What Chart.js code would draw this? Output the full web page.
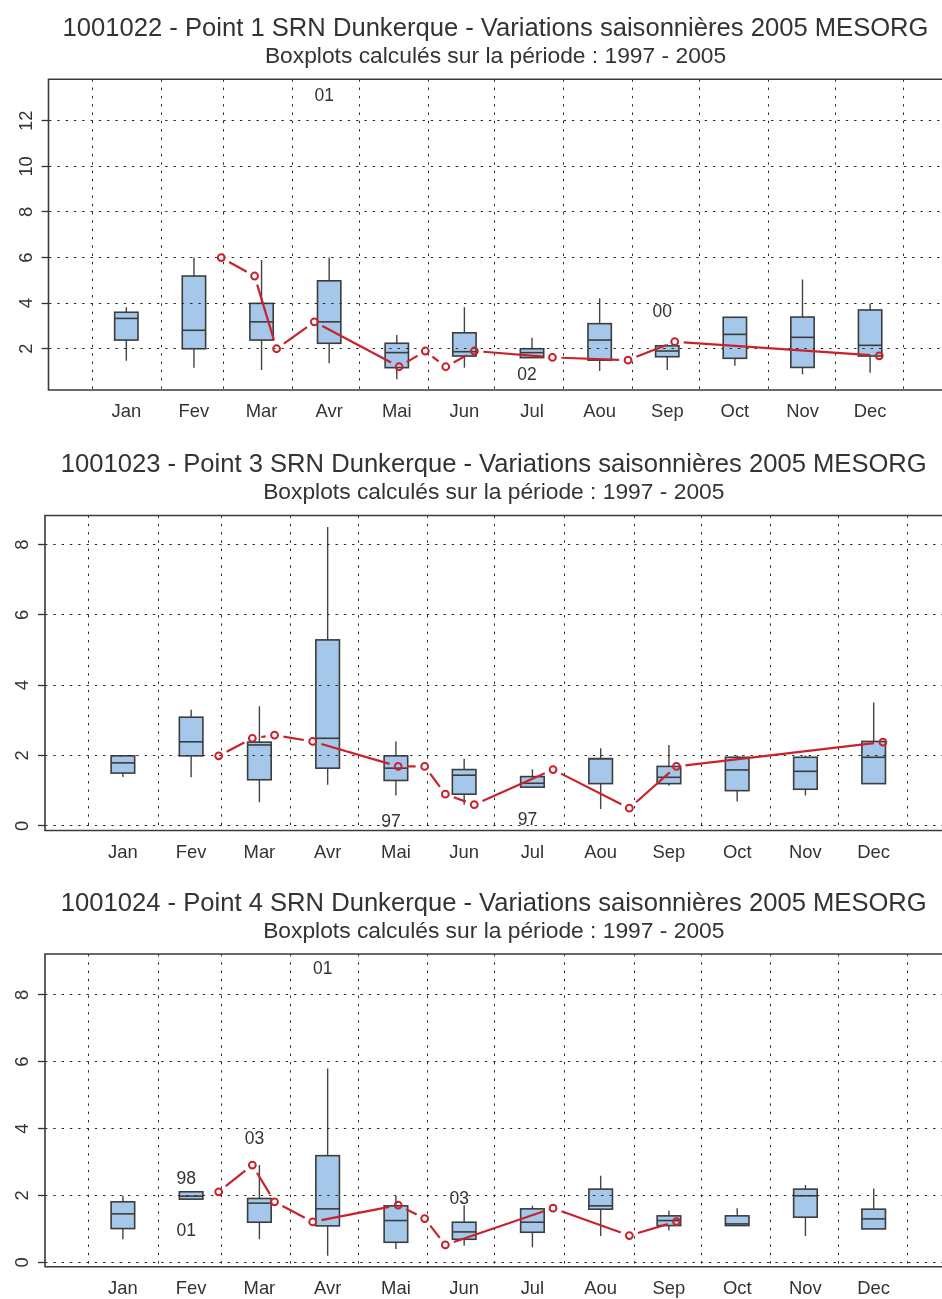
<!DOCTYPE html>
<html><head><meta charset="utf-8">
<script src="https://cdn.jsdelivr.net/npm/chart.js@4.4.1/dist/chart.umd.min.js"></script>
<style>
html,body{margin:0;padding:0;background:#fff;overflow:hidden;}
#wrap{position:relative;width:942px;height:1299px;overflow:hidden;background:#fff;}
.panel{position:absolute;left:0;}
canvas{display:block;}
</style></head><body>
<div id="wrap">
  <div class="panel" style="top:0px"><canvas id="c1" width="948" height="433" style="width:948px;height:433px"></canvas></div>
  <div class="panel" style="top:436px"><canvas id="c2" width="948" height="439" style="width:948px;height:439px"></canvas></div>
  <div class="panel" style="top:875px"><canvas id="c3" width="948" height="424" style="width:948px;height:424px"></canvas></div>
</div>
<script>
// ---------------- DATA ----------------
const months = ['Jan','Fev','Mar','Avr','Mai','Jun','Jul','Aou','Sep','Oct','Nov','Dec'];
const monthStartDays = [0,31,59,90,120,151,181,212,243,273,304,334,365];
// 2005 sampling dates (day of year)
const sampleDays = [57.9, 72.9, 82.8, 99.8, 137.9, 149.7, 158.9, 171.8, 206.9, 240.9, 261.9, 353.9];
const subtitleText = 'Boxplots calculés sur la période : 1997 - 2005';

// Panel 1 : 1001022
const p1Title = '1001022 - Point 1 SRN Dunkerque - Variations saisonnières 2005 MESORG';
const p1Low  = [1.47, 1.17, 1.07, 1.36, 0.66, 1.17, 1.61, 1.02, 1.07, 1.25, 0.88, 0.95];
const p1Q1   = [2.38, 2.00, 2.38, 2.24, 1.17, 1.68, 1.61, 1.50, 1.65, 1.58, 1.18, 1.68];
const p1Med  = [3.33, 2.81, 3.18, 3.18, 1.83, 1.87, 1.83, 2.38, 1.90, 2.63, 2.50, 2.15];
const p1Q3   = [3.60, 5.19, 3.99, 4.98, 2.24, 2.70, 2.00, 3.10, 2.13, 3.38, 3.39, 3.70];
const p1High = [3.82, 6.00, 5.89, 6.00, 2.60, 3.82, 2.48, 4.21, 2.20, 3.40, 5.04, 3.99];
const p1Sample = [6.00, 5.19, 2.00, 3.18, 1.21, 1.90, 1.21, 1.90, 1.62, 1.50, 2.31, 1.69];
const p1OutMonth = [3, 6, 8];
const p1OutValue = [13.1, 0.85, 3.62];
const p1OutLabel = ['01', '02', '00'];
const p1YTicks = [2, 4, 6, 8, 10, 12];

// Panel 2 : 1001023
const p2Title = '1001023 - Point 3 SRN Dunkerque - Variations saisonnières 2005 MESORG';
const p2Low  = [1.39, 1.38, 0.67, 1.17, 0.86, 0.60, 1.10, 0.48, 1.14, 0.69, 0.86, 1.20];
const p2Q1   = [1.50, 1.99, 1.31, 1.64, 1.29, 0.90, 1.10, 1.20, 1.20, 1.00, 1.04, 1.20];
const p2Med  = [1.79, 2.39, 2.30, 2.49, 1.64, 1.44, 1.21, 1.91, 1.38, 1.59, 1.55, 1.95];
const p2Q3   = [1.99, 3.09, 2.38, 5.29, 1.99, 1.60, 1.40, 1.91, 1.69, 1.95, 1.95, 2.40];
const p2High = [1.99, 3.30, 3.40, 8.50, 2.40, 1.91, 1.61, 2.21, 2.30, 2.00, 2.00, 3.51];
const p2Sample = [1.99, 2.49, 2.58, 2.40, 1.69, 1.69, 0.90, 0.60, 1.60, 0.50, 1.69, 2.38];
const p2OutMonth = [4, 6];
const p2OutValue = [0.11, 0.17];
const p2OutLabel = ['97', '97'];
const p2YTicks = [0, 2, 4, 6, 8];

// Panel 3 : 1001024
const p3Title = '1001024 - Point 4 SRN Dunkerque - Variations saisonnières 2005 MESORG';
const p3Low  = [0.69, 1.89, 0.69, 0.20, 0.40, 0.50, 0.45, 0.79, 0.95, 1.10, 0.79, 1.00];
const p3Q1   = [1.01, 1.89, 1.20, 1.09, 0.60, 0.69, 0.90, 1.59, 1.10, 1.10, 1.35, 1.00];
const p3Med  = [1.45, 1.98, 1.77, 1.60, 1.25, 0.91, 1.20, 1.69, 1.25, 1.15, 1.99, 1.30];
const p3Q3   = [1.81, 2.11, 1.91, 3.19, 1.69, 1.20, 1.60, 2.19, 1.39, 1.39, 2.19, 1.59];
const p3High = [1.99, 2.11, 2.91, 5.80, 1.99, 1.71, 1.69, 2.59, 1.54, 1.62, 2.31, 2.21];
const p3Sample = [2.11, 2.91, 1.81, 1.21, 1.71, 1.31, 0.52, null, 1.62, 0.80, 1.22, null];
const p3OutMonth = [1, 1, 2, 3, 5];
const p3OutValue = [2.49, 0.92, 3.69, 8.78, 1.89];
const p3OutLabel = ['98', '01', '03', '01', '03'];
const p3YTicks = [0, 2, 4, 6, 8];

// ---------------- STYLE ----------------
const FONT = '"Liberation Sans", Arial, Helvetica, sans-serif';
const TEXT = '#333333';
const GRID = '#2a2a2a';
const BOX_FILL = '#A5C8EA';
const BOX_LINE = '#3c3c3c';
const RED = '#C8232C';
const TICK_SIZE = 18.4;
const BOX_WIDTH_DAYS = 10.5;
const DASH = [2.4, 5.9];

Chart.defaults.font.family = FONT;
Chart.defaults.color = TEXT;

function boxCenter(i) { return (i + 0.5) * 365 / 12; }

const boxPlugin = {
  id: 'boxes',
  beforeDraw(chart) {
    const b = chart.options.plugins.boxes;
    if (!b) return;
    const xs = chart.scales.x, ys = chart.scales.y, ctx = chart.ctx;
    ctx.save();
    for (let i = 0; i < months.length; i++) {
      const c = boxCenter(i);
      const cx = xs.getPixelForValue(c);
      const x0 = xs.getPixelForValue(c - BOX_WIDTH_DAYS / 2);
      const x1 = xs.getPixelForValue(c + BOX_WIDTH_DAYS / 2);
      const yLow = ys.getPixelForValue(b.low[i]);
      const yQ1 = ys.getPixelForValue(b.q1[i]);
      const yMed = ys.getPixelForValue(b.med[i]);
      const yQ3 = ys.getPixelForValue(b.q3[i]);
      const yHigh = ys.getPixelForValue(b.high[i]);
      ctx.strokeStyle = '#444';
      ctx.lineWidth = 1.4;
      ctx.beginPath();
      ctx.moveTo(cx, yLow); ctx.lineTo(cx, yQ1);
      ctx.moveTo(cx, yQ3); ctx.lineTo(cx, yHigh);
      ctx.stroke();
      ctx.fillStyle = BOX_FILL;
      ctx.fillRect(x0, yQ3, x1 - x0, yQ1 - yQ3);
      ctx.strokeStyle = BOX_LINE;
      ctx.lineWidth = 1.6;
      ctx.strokeRect(x0, yQ3, x1 - x0, yQ1 - yQ3);
      ctx.beginPath();
      ctx.moveTo(x0, yMed); ctx.lineTo(x1, yMed);
      ctx.stroke();
    }
    ctx.restore();
  }
};

const gapLinePlugin = {
  id: 'gapLine',
  beforeDatasetsDraw(chart) {
    const meta = chart.getDatasetMeta(0);
    const pts = meta.data;
    const ctx = chart.ctx;
    const GAP = 9;
    ctx.save();
    ctx.strokeStyle = RED;
    ctx.lineWidth = 2.2;
    ctx.lineCap = 'butt';
    for (let i = 0; i < pts.length - 1; i++) {
      const a = pts[i], b = pts[i + 1];
      const dx = b.x - a.x, dy = b.y - a.y;
      const len = Math.hypot(dx, dy);
      if (len <= 2 * GAP) continue;
      const ux = dx / len, uy = dy / len;
      ctx.beginPath();
      ctx.moveTo(a.x + ux * GAP, a.y + uy * GAP);
      ctx.lineTo(b.x - ux * GAP, b.y - uy * GAP);
      ctx.stroke();
    }
    ctx.restore();
  }
};

const decorPlugin = {
  id: 'decor',
  afterDraw(chart) {
    const d = chart.options.plugins.decor;
    const ctx = chart.ctx, ca = chart.chartArea;
    const xs = chart.scales.x, ys = chart.scales.y;
    ctx.save();
    ctx.strokeStyle = '#3a3a3a';
    ctx.lineWidth = 1.6;
    ctx.beginPath();
    ctx.moveTo(chart.width + 5, ca.top);
    ctx.lineTo(ca.left, ca.top);
    ctx.lineTo(ca.left, ca.bottom);
    ctx.lineTo(chart.width + 5, ca.bottom);
    ctx.stroke();
    ctx.fillStyle = TEXT;
    ctx.font = TICK_SIZE + 'px ' + FONT;
    ctx.textAlign = 'center';
    ctx.textBaseline = 'alphabetic';
    ys.ticks.forEach(t => {
      const py = ys.getPixelForValue(t.value);
      ctx.save();
      ctx.translate(ca.left - 17, py);
      ctx.rotate(-Math.PI / 2);
      ctx.fillText(String(t.value), 0, 0);
      ctx.restore();
    });
    ctx.font = '17.5px ' + FONT;
    ctx.textBaseline = 'middle';
    for (let k = 0; k < d.outMonth.length; k++) {
      const px = xs.getPixelForValue(boxCenter(d.outMonth[k])) - 5;
      const py = ys.getPixelForValue(d.outValue[k]);
      ctx.fillText(d.outLabel[k], px, py);
    }
    ctx.restore();
  }
};

function makePanel(id, p) {
  const canvas = document.getElementById(id);
  const H = canvas.height;
  const points = [];
  sampleDays.forEach((day, i) => { if (p.sample[i] !== null) points.push({x: day, y: p.sample[i]}); });
  const xTicks = [];
  monthStartDays.forEach(v => xTicks.push({value: v, lbl: '', isCenter: false}));
  months.forEach((m, i) => xTicks.push({value: boxCenter(i), lbl: m, isCenter: true}));
  xTicks.sort((a, b) => a.value - b.value);

  return new Chart(canvas, {
    type: 'scatter',
    data: {
      datasets: [{
        data: points,
        showLine: false,
        pointRadius: 3.4,
        pointHoverRadius: 3.4,
        pointBorderWidth: 2,
        pointBorderColor: RED,
        pointBackgroundColor: 'rgba(0,0,0,0)'
      }]
    },
    options: {
      responsive: false,
      devicePixelRatio: 1,
      animation: false,
      events: [],
      layout: { padding: 0 },
      plugins: {
        legend: { display: false },
        tooltip: { enabled: false },
        title: {
          display: true, text: p.title, color: TEXT, fullSize: false,
          font: { size: 25.6, weight: 'normal', lineHeight: 1.1 },
          padding: { top: 15.3, bottom: 0 }
        },
        subtitle: {
          display: true, text: subtitleText, color: TEXT, fullSize: false,
          font: { size: 22.8, weight: 'normal', lineHeight: 1.2 },
          padding: { top: 0, bottom: p.top - 15.3 - 28.16 - 27.36 }
        },
        boxes: { low: p.low, q1: p.q1, med: p.med, q3: p.q3, high: p.high },
        decor: { outMonth: p.outMonth, outValue: p.outValue, outLabel: p.outLabel }
      },
      scales: {
        x: {
          type: 'linear', position: 'bottom',
          min: p.xMin, max: p.xMax,
          afterBuildTicks: s => { s.ticks = xTicks.map(t => Object.assign({}, t)); },
          afterFit: s => { s.height = H - p.bottom; },
          ticks: {
            autoSkip: false, maxRotation: 0, minRotation: 0, padding: 11,
            color: TEXT, font: { size: TICK_SIZE, lineHeight: 1.2 },
            callback: (v, i, ticks) => ticks[i].lbl
          },
          grid: {
            display: true, drawTicks: false,
            color: GRID,
            lineWidth: c => (c.tick && c.tick.isCenter) ? 0 : 1
          },
          border: { display: false, dash: DASH }
        },
        y: {
          type: 'linear', position: 'left',
          min: p.yMin, max: p.yMax,
          afterBuildTicks: s => { s.ticks = p.yTicks.map(v => ({value: v})); },
          afterFit: s => { s.width = p.left; },
          ticks: { display: false },
          grid: {
            display: true, drawTicks: true, tickLength: 7,
            color: GRID, lineWidth: 1,
            tickColor: '#333', tickWidth: 1.3, tickBorderDash: []
          },
          border: { display: false, dash: DASH }
        }
      }
    },
    plugins: [boxPlugin, gapLinePlugin, decorPlugin]
  });
}

makePanel('c1', {
  title: p1Title, low: p1Low, q1: p1Q1, med: p1Med, q3: p1Q3, high: p1High,
  sample: p1Sample, outMonth: p1OutMonth, outValue: p1OutValue, outLabel: p1OutLabel, yTicks: p1YTicks,
  left: 48.5, top: 79.3, bottom: 390, xMin: -19.8, xMax: 382.4, yMin: 0.19, yMax: 13.82
});
makePanel('c2', {
  title: p2Title, low: p2Low, q1: p2Q1, med: p2Med, q3: p2Q3, high: p2High,
  sample: p2Sample, outMonth: p2OutMonth, outValue: p2OutValue, outLabel: p2OutLabel, yTicks: p2YTicks,
  left: 45, top: 79.5, bottom: 394.5, xMin: -19.5, xMax: 380.5, yMin: -0.134, yMax: 8.83
});
makePanel('c3', {
  title: p3Title, low: p3Low, q1: p3Q1, med: p3Med, q3: p3Q3, high: p3High,
  sample: p3Sample, outMonth: p3OutMonth, outValue: p3OutValue, outLabel: p3OutLabel, yTicks: p3YTicks,
  left: 45, top: 79, bottom: 391.7, xMin: -19.5, xMax: 380.5, yMin: -0.13, yMax: 9.22
});
</script>
</body></html>
